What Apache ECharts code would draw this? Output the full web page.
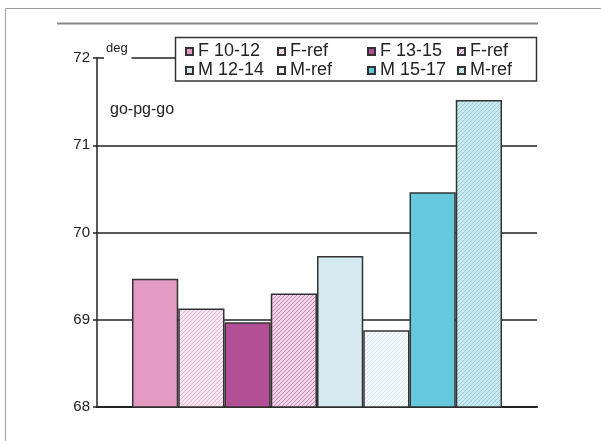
<!DOCTYPE html>
<html>
<head>
<meta charset="utf-8">
<script src="https://cdn.jsdelivr.net/npm/echarts@6/dist/echarts.min.js"></script>
<style>
html,body{margin:0;padding:0;background:#fff;}
#chart{width:601px;height:441px;}
</style>
</head>
<body>
<div id="chart"></div>
<script>
// ---- data ----
const seriesLabels = ['F 10-12', 'F-ref', 'F 13-15', 'F-ref', 'M 12-14', 'M-ref', 'M 15-17', 'M-ref'];
const seriesValues = [69.47, 69.13, 68.97, 69.30, 69.73, 68.88, 70.46, 71.52];
const categories = [''];
const yTicks = { min: 68, max: 72, interval: 1 };
const unitLabel = 'deg';
const noteLabel = 'go-pg-go';

// ---- styles ----
const FONT = 'Liberation Sans, Arial, sans-serif';
function hatch(bg, line) {
  const s = 4;
  const c = document.createElement('canvas');
  c.width = s; c.height = s;
  const g = c.getContext('2d');
  g.fillStyle = bg; g.fillRect(0, 0, s, s);
  g.strokeStyle = line; g.lineWidth = 1;
  g.beginPath();
  g.moveTo(0, s); g.lineTo(s, 0);
  g.moveTo(-1, 1); g.lineTo(1, -1);
  g.moveTo(s - 1, s + 1); g.lineTo(s + 1, s - 1);
  g.stroke();
  return { image: c, repeat: 'repeat' };
}
const fills = [
  '#e29ac3',
  hatch('#f7e6f0', '#e3b6d1'),
  '#b34f95',
  hatch('#f0d6e8', '#c684b1'),
  '#d5e9f1',
  hatch('#f3f8fa', '#d6e6ed'),
  '#66c8dc',
  hatch('#cdeaf1', '#8fcfde')
];
const keys = seriesLabels.map((l, i) => l + '#' + i);

const series = keys.map((k, i) => ({
  name: k,
  type: 'bar',
  data: [seriesValues[i]],
  barGap: '0%',
  barCategoryGap: '15.9%',
  itemStyle: { color: fills[i], borderColor: '#333', borderWidth: 1.5 },
  emphasis: { disabled: true }
}));

const legendCols = [[0, 4], [1, 5], [2, 6], [3, 7]];
const legendLefts = [185, 277, 367, 457];
const legends = legendCols.map((col, j) => ({
  orient: 'vertical',
  left: legendLefts[j],
  top: 41.5,
  padding: 0,
  itemGap: -1,
  itemWidth: 7,
  itemHeight: 7,
  icon: 'rect',
  selectedMode: false,
  data: col.map(i => keys[i]),
  formatter: n => n.replace(/#\d+$/, ''),
  textStyle: { fontFamily: FONT, fontSize: 18, color: '#222', lineHeight: 20 }
}));

const chart = echarts.init(document.getElementById('chart'), null, { renderer: 'canvas' });
chart.setOption({
  animation: false,
  backgroundColor: '#fff',
  grid: { left: 97, right: 64, top: 58, bottom: 34, containLabel: false },
  xAxis: {
    type: 'category',
    data: categories,
    axisTick: { show: false },
    axisLabel: { show: false },
    axisLine: { lineStyle: { color: '#222', width: 2 } },
    splitLine: { show: false }
  },
  yAxis: {
    type: 'value',
    min: yTicks.min, max: yTicks.max, interval: yTicks.interval,
    axisLine: { show: true, lineStyle: { color: '#222', width: 1.5 } },
    axisTick: { show: true, length: 4, lineStyle: { color: '#222', width: 1.5 } },
    axisLabel: { margin: 7, fontFamily: FONT, fontSize: 15, color: '#222' },
    splitLine: { show: true, lineStyle: { color: '#222', width: 1.5 } }
  },
  legend: legends,
  series: series,
  graphic: [
    { type: 'line', z: 1, shape: { x1: 5.5, y1: 8.5, x2: 601, y2: 8.5 }, style: { stroke: '#9a9a9a', lineWidth: 1.2 } },
    { type: 'line', z: 1, shape: { x1: 5.5, y1: 8.5, x2: 5.5, y2: 441 }, style: { stroke: '#a8a8a8', lineWidth: 1.2 } },
    { type: 'line', z: 1, shape: { x1: 57, y1: 23.5, x2: 538, y2: 23.5 }, style: { stroke: '#8a8a8a', lineWidth: 2 } },
    { type: 'rect', z: 3, shape: { x: 104, y: 40, width: 27.5, height: 22 }, style: { fill: '#fff' } },
    { type: 'rect', z: 3, shape: { x: 175.5, y: 37.5, width: 361, height: 43.5 }, style: { fill: '#fff', stroke: '#333', lineWidth: 1.5 } },
    { type: 'text', z: 5, left: 106, top: 42, style: { text: unitLabel, font: '13px ' + FONT, fill: '#222' } },
    { type: 'text', z: 5, left: 110, top: 102, style: { text: noteLabel, font: '16px ' + FONT, fill: '#222' } }
  ]
});
</script>
</body>
</html>
